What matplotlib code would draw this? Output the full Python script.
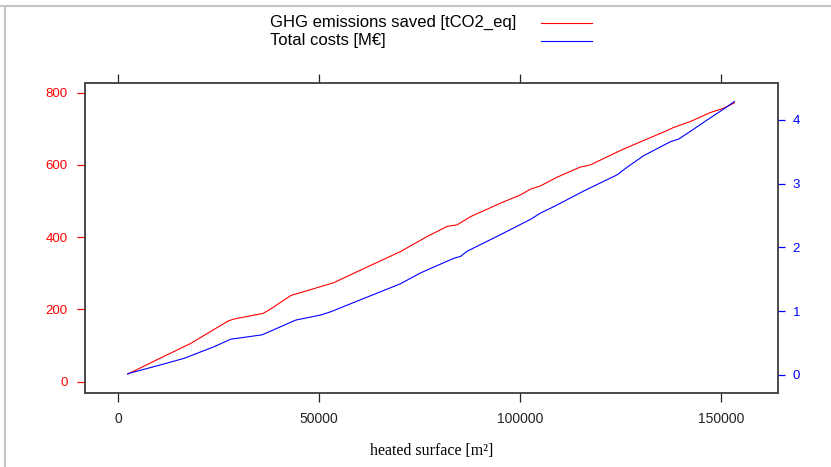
import matplotlib.pyplot as plt
from matplotlib.lines import Line2D

# GHG emissions saved vs. heated surface
surface_ghg = [2300, 10000, 18000, 24000, 27500, 29000, 36000, 38000, 43000,
               47000, 50300, 53600, 60300, 70200, 76900, 81900, 84300, 87700,
               95100, 100100, 102600, 105100, 109200, 115000, 117500, 125000,
               130000, 136600, 138300, 142400, 147400, 150700, 153400]
ghg_saved = [21, 63, 106, 146, 169, 174, 189, 202, 239,
             252, 263, 274, 309, 360, 402, 430, 434, 457,
             494, 517, 533, 542, 566, 594, 600, 640,
             664, 695, 704, 720, 745, 757, 772]

# total costs vs. heated surface
surface_cost = [2300, 10000, 16300, 23700, 27900, 29000, 35800, 44100, 50300,
                52800, 53600, 60300, 70200, 75200, 83500, 85200, 86800, 95100,
                102600, 105100, 108400, 116000, 124200, 126700, 130800, 137500,
                139500, 142400, 146600, 150700, 153400]
total_cost = [0.02, 0.15, 0.26, 0.44, 0.56, 0.57, 0.63, 0.86, 0.94,
              0.99, 1.01, 1.18, 1.43, 1.60, 1.83, 1.86, 1.94, 2.20,
              2.44, 2.54, 2.64, 2.89, 3.14, 3.26, 3.44, 3.66,
              3.70, 3.82, 4.00, 4.17, 4.29]

x_ticks = [0, 50000, 100000, 150000]
ghg_ticks = [0, 200, 400, 600, 800]
cost_ticks = [0, 1, 2, 3, 4]

plt.rcParams["font.family"] = ["Liberation Sans", "DejaVu Sans"]

fig = plt.figure(figsize=(8.31, 4.67), dpi=100)
W, H = 831, 467
ax = fig.add_axes([85 / W, 1 - 393 / H, (778 - 85) / W, (393 - 83) / H])
ax2 = ax.twinx()

ax.plot(surface_ghg, ghg_saved, color="red", lw=0.8)
ax2.plot(surface_cost, total_cost, color="blue", lw=0.8)

ax.set_xlim(-8340, 164250)
ax.set_ylim(-31.3, 826.8)
ax2.set_ylim(-0.283, 4.58)

ax.set_xticks(x_ticks)
ax.set_xticklabels([str(v) for v in x_ticks], fontsize=10, color="#222222")
ax.set_yticks(ghg_ticks)
ax.set_yticklabels([str(v) for v in ghg_ticks], fontsize=9.5, color="red")
ax2.set_yticks(cost_ticks)
ax2.set_yticklabels([str(v) for v in cost_ticks], fontsize=9.5, color="blue")

ax.tick_params(axis="x", which="both", direction="out", length=6.5, width=0.9,
               color="#222222", pad=7, top=True)
ax.tick_params(axis="y", direction="out", length=5.8, width=0.9, color="red", pad=6.5)
ax2.tick_params(axis="y", direction="out", length=5, width=0.9, color="blue", pad=5.5)

for a in (ax, ax2):
    for sp in a.spines.values():
        sp.set_color("#444444")
        sp.set_linewidth(1.1)

ax.set_xlabel("heated surface [m²]", family=["Liberation Serif", "DejaVu Serif"],
              fontsize=11.5)
ax.xaxis.set_label_coords(0.5, (393 - 451) / 310)
ax.xaxis.label.set_va("center")

# key above the panel
fig.text(270 / W, 1 - 22.5 / H, "GHG emissions saved [tCO2_eq]", fontsize=12,
         ha="left", va="center")
fig.text(270 / W, 1 - 41 / H, "Total costs [M€]", fontsize=12,
         ha="left", va="center")
fig.add_artist(Line2D([541 / W, 592 / W], [1 - 22.7 / H] * 2, color="red", lw=0.8))
fig.add_artist(Line2D([541 / W, 592 / W], [1 - 41 / H] * 2, color="blue", lw=0.8))

# window frame
fig.add_artist(Line2D([0, 1], [1 - 5.5 / H] * 2, color="#c4c4c4", lw=1.5))
fig.add_artist(Line2D([4.7 / W] * 2, [0, 1 - 5.5 / H], color="#c4c4c4", lw=1.5))

fig.savefig("out.png", dpi=100)
